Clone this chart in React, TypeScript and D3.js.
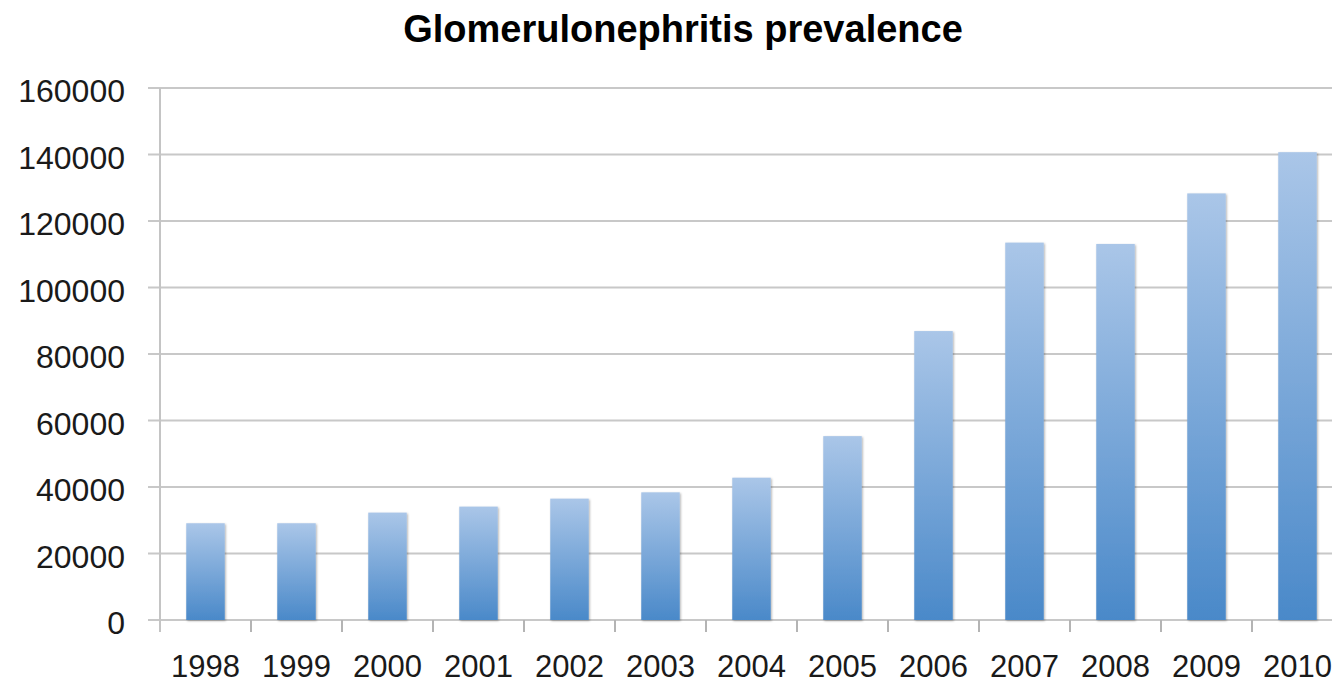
import React, { useEffect, useRef } from 'react';
import * as d3 from 'd3';

const years = ['1998', '1999', '2000', '2001', '2002', '2003', '2004', '2005', '2006', '2007', '2008', '2009', '2010'];
const prevalence = [29100, 29100, 32300, 34100, 36500, 38400, 42800, 55300, 86900, 113500, 113100, 128300, 140700];
const yTicks = [0, 20000, 40000, 60000, 80000, 100000, 120000, 140000, 160000];

const App: React.FC = () => {
  const ref = useRef<SVGSVGElement>(null);

  useEffect(() => {
    if (!ref.current) return;
    const svg = d3.select(ref.current);
    svg.selectAll('*').remove();

    const width = 1332;
    const height = 683;
    const left = 160;
    const step = 91;
    const top = 88;
    const bottom = 620;

    svg.attr('width', width).attr('height', height);

    const defs = svg.append('defs');
    const grad = defs.append('linearGradient')
      .attr('id', 'barGrad')
      .attr('x1', 0).attr('y1', 0).attr('x2', 0).attr('y2', 1);
    grad.append('stop').attr('offset', '0%').attr('stop-color', '#aac6e8');
    grad.append('stop').attr('offset', '100%').attr('stop-color', '#4a89c9');

    const shadow = defs.append('filter').attr('id', 'barShadow')
      .attr('x', '-20%').attr('y', '-5%').attr('width', '140%').attr('height', '110%');
    shadow.append('feDropShadow')
      .attr('dx', 1).attr('dy', 1).attr('stdDeviation', 1.2)
      .attr('flood-color', '#000').attr('flood-opacity', 0.3);

    const x = d3.scaleBand<string>()
      .domain(years)
      .range([left, left + step * years.length])
      .paddingInner(0.577)
      .paddingOuter(0.577 / 2);

    const y = d3.scaleLinear().domain([0, 160000]).range([bottom, top]);

    // Gridlines
    svg.append('g')
      .selectAll('line')
      .data(yTicks)
      .enter()
      .append('line')
      .attr('x1', left - 12)
      .attr('x2', width)
      .attr('y1', d => y(d))
      .attr('y2', d => y(d))
      .attr('stroke', '#c8c8c8')
      .attr('stroke-width', 2);

    // Vertical axis
    svg.append('line')
      .attr('x1', left).attr('x2', left)
      .attr('y1', top).attr('y2', bottom + 12)
      .attr('stroke', '#c4c4c4')
      .attr('stroke-width', 2);

    // X tick marks
    svg.append('g')
      .selectAll('line')
      .data(d3.range(1, years.length + 1))
      .enter()
      .append('line')
      .attr('x1', i => left + i * step)
      .attr('x2', i => left + i * step)
      .attr('y1', bottom)
      .attr('y2', bottom + 12)
      .attr('stroke', '#b4b4b4')
      .attr('stroke-width', 2);

    // Bars
    svg.append('g')
      .selectAll('rect')
      .data(prevalence)
      .enter()
      .append('rect')
      .attr('x', (_, i) => x(years[i]) as number)
      .attr('width', x.bandwidth())
      .attr('y', d => y(d))
      .attr('height', d => bottom - y(d))
      .attr('fill', 'url(#barGrad)')
      .attr('filter', 'url(#barShadow)');

    // Y labels
    svg.append('g')
      .selectAll('text')
      .data(yTicks)
      .enter()
      .append('text')
      .attr('x', 125)
      .attr('y', d => y(d) + 3)
      .attr('text-anchor', 'end')
      .attr('dominant-baseline', 'central')
      .style('font-family', '"Liberation Sans", Arial, sans-serif')
      .style('font-size', '32px')
      .style('fill', '#1a1a1a')
      .text(d => String(d));

    // X labels
    svg.append('g')
      .selectAll('text')
      .data(years)
      .enter()
      .append('text')
      .attr('x', d => (x(d) as number) + x.bandwidth() / 2)
      .attr('y', 677)
      .attr('text-anchor', 'middle')
      .style('font-family', '"Liberation Sans", Arial, sans-serif')
      .style('font-size', '31px')
      .style('fill', '#1a1a1a')
      .text(d => d);

    // Title
    svg.append('text')
      .attr('x', 683)
      .attr('y', 42)
      .attr('text-anchor', 'middle')
      .style('font-family', '"Liberation Sans", Arial, sans-serif')
      .style('font-size', '38px')
      .style('font-weight', 'bold')
      .style('fill', '#000')
      .text('Glomerulonephritis prevalence');
  }, []);

  return (
    <div style={{ position: 'absolute', left: 0, top: 0 }}>
      <svg ref={ref} style={{ display: 'block' }}></svg>
    </div>
  );
};

export default App;
